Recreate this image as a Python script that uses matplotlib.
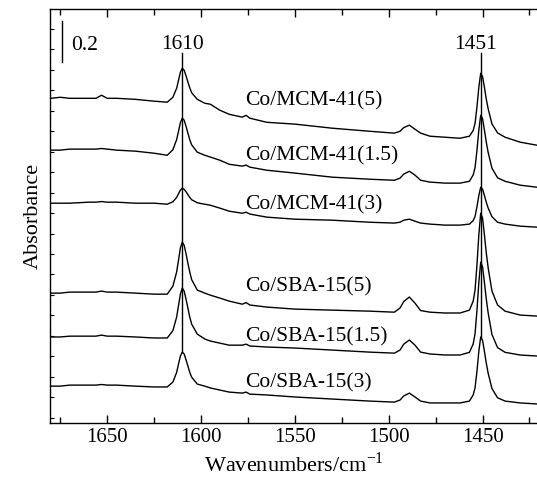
import numpy as np
import matplotlib
matplotlib.use("Agg")
import matplotlib.pyplot as plt
from matplotlib.ticker import MultipleLocator, FixedLocator

plt.rcParams['font.family'] = ['Liberation Serif', 'DejaVu Serif']
plt.rcParams['mathtext.fontset'] = 'custom'
plt.rcParams['mathtext.rm'] = 'Liberation Serif'

# wavenumber grid (cm-1) shared by all spectra
wavenumber = [1680, 1675, 1670, 1660, 1656, 1653, 1650, 1645, 1635, 1625,
              1618, 1615, 1613, 1612, 1611, 1610, 1609, 1608, 1607, 1606,
              1605, 1602, 1598, 1595, 1590, 1585, 1578, 1576, 1574, 1565,
              1550, 1530, 1510, 1497, 1494, 1492, 1489, 1486, 1483, 1478,
              1470, 1462, 1457, 1455, 1454, 1453, 1452, 1451, 1450, 1449,
              1448, 1447, 1445, 1442, 1438, 1430, 1421]

# stacked absorbance values (offset spectra), top to bottom
mcm41_5 = [1.585, 1.590, 1.585, 1.585, 1.585, 1.600, 1.585, 1.585, 1.580, 1.571,
           1.566, 1.590, 1.634, 1.673, 1.712, 1.732, 1.722, 1.695, 1.665, 1.636,
           1.612, 1.580, 1.561, 1.556, 1.527, 1.507, 1.493, 1.502, 1.488, 1.468,
           1.459, 1.439, 1.424, 1.415, 1.424, 1.442, 1.454, 1.434, 1.415, 1.400,
           1.395, 1.390, 1.400, 1.428, 1.463, 1.542, 1.638, 1.707, 1.691, 1.638,
           1.580, 1.533, 1.460, 1.416, 1.395, 1.371, 1.356]
mcm41_15 = [1.332, 1.332, 1.337, 1.337, 1.337, 1.340, 1.337, 1.332, 1.327, 1.317,
            1.307, 1.334, 1.383, 1.424, 1.466, 1.488, 1.478, 1.449, 1.415, 1.383,
            1.358, 1.322, 1.307, 1.298, 1.283, 1.263, 1.254, 1.259, 1.249, 1.234,
            1.220, 1.200, 1.190, 1.185, 1.195, 1.215, 1.229, 1.210, 1.185, 1.176,
            1.171, 1.171, 1.180, 1.211, 1.247, 1.330, 1.429, 1.502, 1.486, 1.429,
            1.370, 1.320, 1.244, 1.197, 1.180, 1.161, 1.151]
mcm41_3 = [1.073, 1.073, 1.073, 1.078, 1.078, 1.081, 1.078, 1.078, 1.073, 1.073,
           1.068, 1.080, 1.101, 1.119, 1.137, 1.146, 1.141, 1.129, 1.115, 1.101,
           1.090, 1.075, 1.068, 1.063, 1.049, 1.034, 1.024, 1.029, 1.020, 1.005,
           0.995, 0.990, 0.980, 0.976, 0.980, 0.990, 0.995, 0.985, 0.976, 0.971,
           0.966, 0.966, 0.971, 0.988, 1.008, 1.055, 1.110, 1.151, 1.141, 1.110,
           1.077, 1.049, 1.007, 0.980, 0.971, 0.961, 0.956]
sba15_5 = [0.634, 0.634, 0.639, 0.639, 0.639, 0.644, 0.639, 0.639, 0.634, 0.629,
           0.629, 0.668, 0.737, 0.795, 0.854, 0.883, 0.868, 0.827, 0.780, 0.737,
           0.700, 0.649, 0.634, 0.624, 0.610, 0.595, 0.580, 0.588, 0.576, 0.566,
           0.556, 0.551, 0.546, 0.541, 0.561, 0.593, 0.615, 0.585, 0.549, 0.541,
           0.537, 0.537, 0.551, 0.595, 0.649, 0.771, 0.917, 1.024, 1.000, 0.917,
           0.829, 0.756, 0.644, 0.576, 0.546, 0.527, 0.522]
sba15_15 = [0.420, 0.420, 0.424, 0.424, 0.424, 0.429, 0.424, 0.424, 0.420, 0.415,
            0.415, 0.451, 0.517, 0.573, 0.629, 0.659, 0.644, 0.605, 0.561, 0.517,
            0.483, 0.434, 0.410, 0.400, 0.390, 0.380, 0.380, 0.385, 0.376, 0.371,
            0.366, 0.356, 0.346, 0.341, 0.356, 0.385, 0.405, 0.380, 0.346, 0.337,
            0.332, 0.332, 0.345, 0.386, 0.436, 0.549, 0.685, 0.785, 0.762, 0.685,
            0.604, 0.536, 0.432, 0.368, 0.345, 0.332, 0.327]
sba15_3 = [0.180, 0.180, 0.185, 0.185, 0.185, 0.188, 0.185, 0.185, 0.180, 0.176,
           0.176, 0.200, 0.247, 0.288, 0.327, 0.346, 0.337, 0.309, 0.278, 0.247,
           0.224, 0.190, 0.180, 0.171, 0.161, 0.151, 0.146, 0.151, 0.141, 0.137,
           0.127, 0.117, 0.107, 0.102, 0.112, 0.132, 0.146, 0.127, 0.107, 0.098,
           0.098, 0.098, 0.107, 0.137, 0.172, 0.252, 0.349, 0.420, 0.403, 0.349,
           0.291, 0.242, 0.168, 0.123, 0.107, 0.098, 0.093]

spectra = [mcm41_5, mcm41_15, mcm41_3, sba15_5, sba15_15, sba15_3]
names = ["Co/MCM-41(5)", "Co/MCM-41(1.5)", "Co/MCM-41(3)",
         "Co/SBA-15(5)", "Co/SBA-15(1.5)", "Co/SBA-15(3)"]
label_y = [1.571, 1.302, 1.063, 0.663, 0.420, 0.195]
peaks = [1610, 1451]

fig = plt.figure(figsize=(5.37, 4.84), dpi=100)
ax = fig.add_axes([0.093, 0.126, 0.907, 0.855])

for s in spectra:
    ax.plot(wavenumber, s, color='black', lw=1.0)

for name, yy in zip(names, label_y):
    ax.text(1576.5, yy, name, fontsize=15.5, ha='left', va='center')

# marker lines at the two band positions, down to the lowest spectrum
for p, tx in zip(peaks, [1610, 1453.5]):
    i = wavenumber.index(p)
    ax.plot([p, p], [sba15_3[i], 1.805], color='black', lw=1.0)
    ax.text(tx, 1.849, str(p), fontsize=15.5, ha='center', va='center')

# 0.2 absorbance scale bar
ax.plot([1674, 1674], [1.761, 1.961], color='black', lw=1.0)
ax.text(1669, 1.845, "0.2", fontsize=15.5, ha='left', va='center')

ax.set_xlim(1680.5, 1421)
ax.set_ylim(0, 2.02)
ax.xaxis.set_major_locator(MultipleLocator(50))
ax.xaxis.set_minor_locator(MultipleLocator(25))
ax.yaxis.set_major_locator(FixedLocator(np.arange(0.025, 2.0, 0.1)))
ax.set_yticklabels([])
ax.tick_params(axis='x', which='both', direction='in', top=True, labelsize=15)
ax.tick_params(axis='x', which='major', length=6, width=1)
ax.tick_params(axis='x', which='minor', length=4, width=1)
ax.tick_params(axis='y', which='both', direction='in', length=3, width=0.8)
ax.spines['right'].set_visible(False)
for sp in ['left', 'top', 'bottom']:
    ax.spines[sp].set_linewidth(1.0)

ax.set_xlabel(r"Wavenumbers/cm$^{\mathrm{-1}}$", fontsize=16, labelpad=4)
ax.set_ylabel("Absorbance", fontsize=16, labelpad=2)

fig.savefig("out.png", dpi=100)
